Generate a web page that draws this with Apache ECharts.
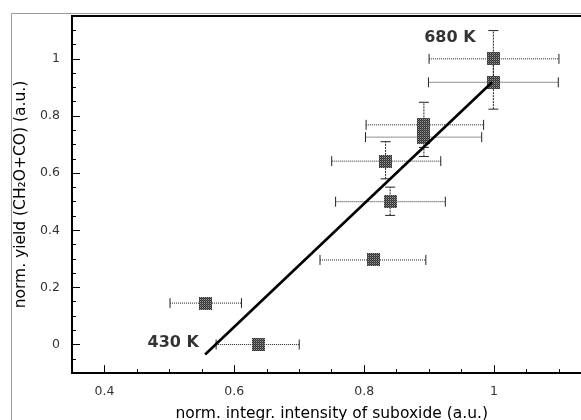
<!DOCTYPE html>
<html>
<head>
<meta charset="utf-8">
<script src="https://cdn.jsdelivr.net/npm/echarts@6/dist/echarts.min.js"></script>
<style>html,body{margin:0;padding:0;background:#fff}#c{width:581px;height:420px}</style>
</head>
<body>
<div id="c"></div>
<script>
// ---- data ----
var xVals  = [0.556, 0.637, 0.814, 0.840, 0.833, 0.892, 0.892, 0.999, 0.999];
var yVals  = [0.145, 0.000, 0.296, 0.500, 0.642, 0.769, 0.726, 0.918, 1.000];
var xLow   = [0.501, 0.572, 0.732, 0.756, 0.750, 0.803, 0.802, 0.899, 0.900];
var xHigh  = [0.611, 0.700, 0.895, 0.925, 0.918, 0.984, 0.981, 1.099, 1.100];
var yLow   = [0.145, 0.000, 0.296, 0.452, 0.580, 0.690, 0.658, 0.824, 0.910];
var yHigh  = [0.145, 0.000, 0.296, 0.551, 0.710, 0.848, 0.790, 1.010, 1.099];
var fitX   = [0.555, 0.997];
var fitY   = [-0.035, 0.918];
var annotText = ['680 K', '430 K'];
var annotX    = [0.932, 0.506];
var annotY    = [1.073, 0.007];
var xMajorTicks = [0.4, 0.6, 0.8, 1.0];
var xMinorTicks = [0.35,0.4,0.45,0.5,0.55,0.6,0.65,0.7,0.75,0.8,0.85,0.9,0.95,1.0,1.05,1.1,1.15];
var yMajorTicks = [0, 0.2, 0.4, 0.6, 0.8, 1.0];
var yMinorTicks = [-0.1,-0.05,0,0.05,0.1,0.15,0.2,0.25,0.3,0.35,0.4,0.45,0.5,0.55,0.6,0.65,0.7,0.75,0.8,0.85,0.9,0.95,1.0,1.05,1.1,1.15];
var xTitle = 'norm. integr. intensity of suboxide (a.u.)';
var yTitle = 'norm. yield (CH\u2082O+CO) (a.u.)';

// ---- pattern for the square markers ----
var pc = document.createElement('canvas');
pc.width = 2; pc.height = 2;
var pctx = pc.getContext('2d');
pctx.fillStyle = '#9c9c9c'; pctx.fillRect(0,0,2,2);
pctx.fillStyle = '#333333'; pctx.fillRect(0,0,1,1); pctx.fillRect(1,1,1,1);
pctx.fillStyle = '#5a5a5a'; pctx.fillRect(1,0,1,1);

var pts = xVals.map(function(x,i){ return [x, yVals[i]]; });
var errData = xVals.map(function(x,i){ return [x, yVals[i], xLow[i], xHigh[i], yLow[i], yHigh[i]]; });
var fitData = fitX.map(function(x,i){ return [x, fitY[i]]; });
var annData = annotText.map(function(t,i){ return {name:t, value:[annotX[i], annotY[i]]}; });

var XMIN = 0.35, XMAX = 1.15, YMIN = -0.1, YMAX = 1.15;
var tickFont = {fontFamily:'DejaVu Sans', fontSize:12.5, color:'#333'};

var chart = echarts.init(document.getElementById('c'), null, {renderer:'canvas'});
chart.setOption({
  animation:false,
  backgroundColor:'#fff',
  graphic:[{type:'rect', shape:{x:11.5,y:13.5,width:620,height:500}, style:{fill:null, stroke:'#9a9a9a', lineWidth:1}, z:-10}],
  grid:{left:72, top:16, width:519.4, height:357.1, show:true, borderColor:'#000', borderWidth:2,
        backgroundColor:'transparent', outerBoundsMode:'none', containLabel:false},
  xAxis:[{
    type:'value', min:XMIN, max:XMAX, position:'bottom',
    name:xTitle, nameLocation:'middle', nameGap:33,
    nameTextStyle:{fontFamily:'DejaVu Sans', fontSize:15.5, color:'#000'},
    axisLine:{show:true, onZero:false, lineStyle:{color:'#000', width:2}},
    axisTick:{show:true, inside:true, length:8, customValues:xMajorTicks, lineStyle:{color:'#000', width:1}},
    axisLabel:Object.assign({show:true, margin:12, customValues:xMajorTicks, formatter:function(v){return String(+v.toFixed(2));}}, tickFont),
    splitLine:{show:false}
  },{
    type:'value', min:XMIN, max:XMAX, position:'bottom',
    axisLine:{show:false, onZero:false},
    axisTick:{show:true, inside:true, length:4, customValues:xMinorTicks, lineStyle:{color:'#000', width:1}},
    axisLabel:{show:false}, splitLine:{show:false}
  }],
  yAxis:[{
    type:'value', min:YMIN, max:YMAX, position:'left',
    name:yTitle, nameLocation:'middle', nameGap:42, nameRotate:90,
    nameTextStyle:{fontFamily:'DejaVu Sans', fontSize:15.5, color:'#000'},
    axisLine:{show:true, onZero:false, lineStyle:{color:'#000', width:2}},
    axisTick:{show:true, inside:true, length:8, customValues:yMajorTicks, lineStyle:{color:'#000', width:1}},
    axisLabel:Object.assign({show:true, margin:12, customValues:yMajorTicks, formatter:function(v){return String(+v.toFixed(2));}}, tickFont),
    splitLine:{show:false}
  },{
    type:'value', min:YMIN, max:YMAX, position:'left',
    axisLine:{show:false, onZero:false},
    axisTick:{show:true, inside:true, length:4, customValues:yMinorTicks, lineStyle:{color:'#000', width:1}},
    axisLabel:{show:false}, splitLine:{show:false}
  }],
  series:[{
    type:'custom', z:2, clip:true,
    data:errData,
    renderItem:function(params, api){
      var y = api.value(1), x = api.value(0);
      var l = api.coord([api.value(2), y]);
      var r = api.coord([api.value(3), y]);
      var c = 5;
      var hstyle = {stroke:'#222', lineWidth:1, lineDash:[1,1]};
      var cstyle = {stroke:'#222', lineWidth:1};
      var children = [
        {type:'line', shape:{x1:l[0], y1:l[1], x2:r[0], y2:r[1]}, style:hstyle},
        {type:'line', shape:{x1:l[0], y1:l[1]-c, x2:l[0], y2:l[1]+c}, style:cstyle},
        {type:'line', shape:{x1:r[0], y1:r[1]-c, x2:r[0], y2:r[1]+c}, style:cstyle}
      ];
      if (api.value(5) > api.value(4)) {
        var b = api.coord([x, api.value(4)]);
        var t = api.coord([x, api.value(5)]);
        children.push(
          {type:'line', shape:{x1:b[0], y1:b[1], x2:t[0], y2:t[1]}, style:{stroke:'#222', lineWidth:1, lineDash:[2,1]}},
          {type:'line', shape:{x1:b[0]-c, y1:b[1], x2:b[0]+c, y2:b[1]}, style:cstyle},
          {type:'line', shape:{x1:t[0]-c, y1:t[1], x2:t[0]+c, y2:t[1]}, style:cstyle}
        );
      }
      return {type:'group', children:children};
    }
  },{
    type:'custom', z:3, data:pts,
    renderItem:function(params, api){
      var p = api.coord([api.value(0), api.value(1)]);
      var s = 13;
      return {type:'rect', shape:{x:Math.round(p[0]-s/2), y:Math.round(p[1]-s/2), width:s, height:s},
              style:{fill:{image:pc, repeat:'repeat'}}};
    }
  },{
    type:'line', z:4, data:fitData, showSymbol:false, symbol:'none',
    lineStyle:{color:'#000', width:2.6}
  },{
    type:'scatter', z:5, data:annData, symbolSize:1, itemStyle:{color:'rgba(0,0,0,0)'},
    label:{show:true, position:'inside', formatter:'{b}', fontFamily:'DejaVu Sans', fontWeight:'bold', fontSize:16, color:'#000', textBorderWidth:0}
  }]
});
</script>
</body>
</html>
